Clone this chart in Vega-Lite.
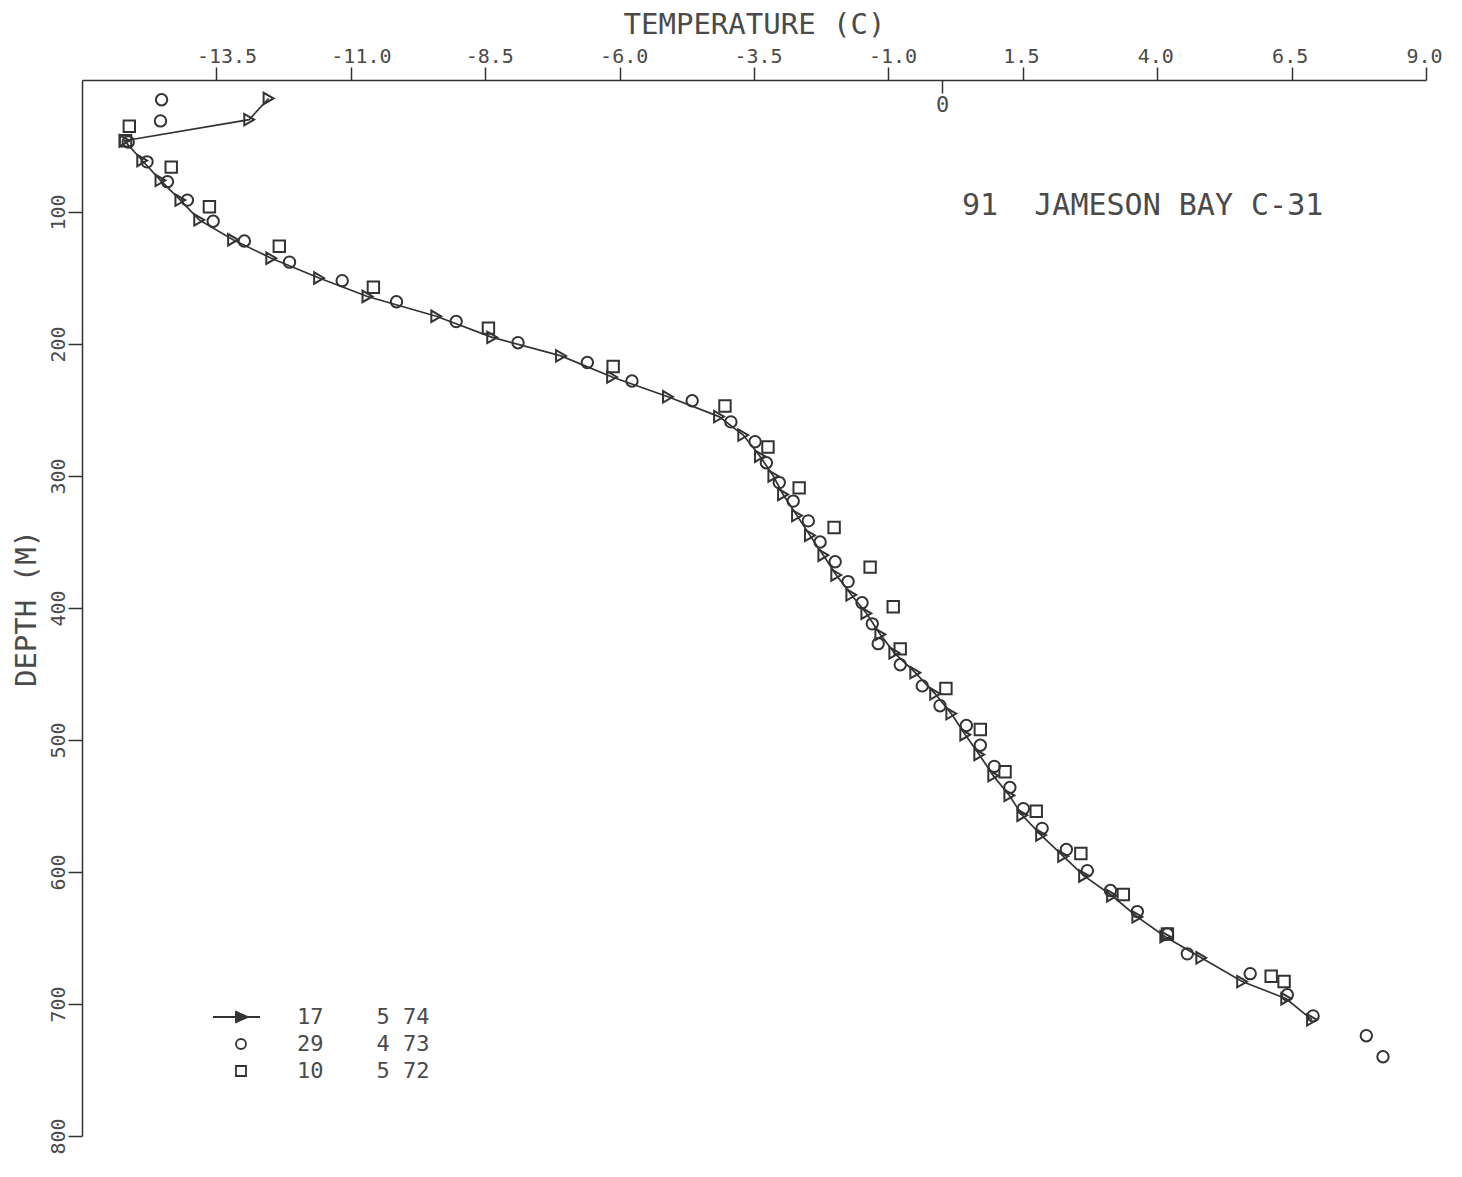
{
  "$schema": "https://vega.github.io/schema/vega-lite/v6.json",
  "width": 1344,
  "height": 1056,
  "autosize": {"type": "none"},
  "padding": {"left": 82, "top": 80, "right": 36, "bottom": 41},
  "background": "white",
  "config": {"view": {"stroke": null}, "axis": {"grid": false}, "font": "DejaVu Sans Mono"},
  "datasets": {
    "obs": [
      {"s":"A","temp":-12.53,"depth":14},{"s":"A","temp":-12.89,"depth":30},{"s":"A","temp":-15.21,"depth":46},{"s":"A","temp":-14.88,"depth":61},
      {"s":"A","temp":-14.54,"depth":76},{"s":"A","temp":-14.17,"depth":91},{"s":"A","temp":-13.82,"depth":106},{"s":"A","temp":-13.19,"depth":121},
      {"s":"A","temp":-12.48,"depth":135},{"s":"A","temp":-11.59,"depth":150},{"s":"A","temp":-10.69,"depth":164},{"s":"A","temp":-9.41,"depth":179},
      {"s":"A","temp":-8.37,"depth":195},{"s":"A","temp":-7.09,"depth":209},{"s":"A","temp":-6.14,"depth":225},{"s":"A","temp":-5.10,"depth":240},
      {"s":"A","temp":-4.15,"depth":255},{"s":"A","temp":-3.70,"depth":269},{"s":"A","temp":-3.39,"depth":285},{"s":"A","temp":-3.14,"depth":300},
      {"s":"A","temp":-2.96,"depth":314},{"s":"A","temp":-2.70,"depth":330},{"s":"A","temp":-2.46,"depth":345},{"s":"A","temp":-2.21,"depth":360},
      {"s":"A","temp":-1.97,"depth":375},{"s":"A","temp":-1.69,"depth":390},{"s":"A","temp":-1.41,"depth":404},{"s":"A","temp":-1.15,"depth":420},
      {"s":"A","temp":-0.89,"depth":434},{"s":"A","temp":-0.50,"depth":449},{"s":"A","temp":-0.13,"depth":465},{"s":"A","temp":0.17,"depth":480},
      {"s":"A","temp":0.43,"depth":496},{"s":"A","temp":0.69,"depth":511},{"s":"A","temp":0.95,"depth":527},{"s":"A","temp":1.25,"depth":542},
      {"s":"A","temp":1.49,"depth":557},{"s":"A","temp":1.84,"depth":572},{"s":"A","temp":2.25,"depth":588},{"s":"A","temp":2.64,"depth":603},
      {"s":"A","temp":3.16,"depth":618},{"s":"A","temp":3.63,"depth":634},{"s":"A","temp":4.15,"depth":649},{"s":"A","temp":4.82,"depth":665},
      {"s":"A","temp":5.58,"depth":683},{"s":"A","temp":6.40,"depth":696},{"s":"A","temp":6.88,"depth":712},
      {"s":"B","temp":-14.52,"depth":15},{"s":"B","temp":-14.54,"depth":31},{"s":"B","temp":-15.14,"depth":47},{"s":"B","temp":-14.79,"depth":62},
      {"s":"B","temp":-14.41,"depth":77},{"s":"B","temp":-14.04,"depth":91},{"s":"B","temp":-13.56,"depth":107},{"s":"B","temp":-12.98,"depth":122},
      {"s":"B","temp":-12.14,"depth":138},{"s":"B","temp":-11.16,"depth":152},{"s":"B","temp":-10.15,"depth":168},{"s":"B","temp":-9.04,"depth":183},
      {"s":"B","temp":-7.89,"depth":199},{"s":"B","temp":-6.60,"depth":214},{"s":"B","temp":-5.77,"depth":228},{"s":"B","temp":-4.65,"depth":243},
      {"s":"B","temp":-3.93,"depth":259},{"s":"B","temp":-3.48,"depth":274},{"s":"B","temp":-3.27,"depth":290},{"s":"B","temp":-3.03,"depth":305},
      {"s":"B","temp":-2.77,"depth":319},{"s":"B","temp":-2.49,"depth":334},{"s":"B","temp":-2.27,"depth":350},{"s":"B","temp":-1.99,"depth":365},
      {"s":"B","temp":-1.75,"depth":380},{"s":"B","temp":-1.49,"depth":396},{"s":"B","temp":-1.30,"depth":412},{"s":"B","temp":-1.19,"depth":427},
      {"s":"B","temp":-0.78,"depth":443},{"s":"B","temp":-0.37,"depth":459},{"s":"B","temp":-0.04,"depth":474},{"s":"B","temp":0.45,"depth":489},
      {"s":"B","temp":0.71,"depth":504},{"s":"B","temp":0.97,"depth":520},{"s":"B","temp":1.26,"depth":536},{"s":"B","temp":1.51,"depth":552},
      {"s":"B","temp":1.86,"depth":567},{"s":"B","temp":2.31,"depth":583},{"s":"B","temp":2.70,"depth":599},{"s":"B","temp":3.13,"depth":614},
      {"s":"B","temp":3.63,"depth":630},{"s":"B","temp":4.19,"depth":647},{"s":"B","temp":4.56,"depth":662},{"s":"B","temp":5.73,"depth":677},
      {"s":"B","temp":6.42,"depth":693},{"s":"B","temp":6.90,"depth":709},{"s":"B","temp":7.89,"depth":724},{"s":"B","temp":8.20,"depth":740},
      {"s":"C","temp":-15.12,"depth":35},{"s":"C","temp":-15.19,"depth":46},{"s":"C","temp":-14.34,"depth":66},{"s":"C","temp":-13.63,"depth":96},
      {"s":"C","temp":-12.33,"depth":126},{"s":"C","temp":-10.58,"depth":157},{"s":"C","temp":-8.44,"depth":188},{"s":"C","temp":-6.12,"depth":217},
      {"s":"C","temp":-4.04,"depth":247},{"s":"C","temp":-3.24,"depth":278},{"s":"C","temp":-2.66,"depth":309},{"s":"C","temp":-2.01,"depth":339},
      {"s":"C","temp":-1.34,"depth":369},{"s":"C","temp":-0.91,"depth":399},{"s":"C","temp":-0.78,"depth":431},{"s":"C","temp":0.07,"depth":461},
      {"s":"C","temp":0.71,"depth":492},{"s":"C","temp":1.17,"depth":524},{"s":"C","temp":1.75,"depth":554},{"s":"C","temp":2.58,"depth":586},
      {"s":"C","temp":3.37,"depth":617},{"s":"C","temp":4.19,"depth":647},{"s":"C","temp":6.12,"depth":679},{"s":"C","temp":6.36,"depth":683}
    ]
  },
  "data": {"name": "obs"},
  "encoding": {
    "y": {
      "field": "depth", "type": "quantitative",
      "scale": {"domain": [0, 800], "reverse": true, "nice": false, "zero": false},
      "axis": {
        "orient": "left", "values": [100, 200, 300, 400, 500, 600, 700, 800],
        "tickSize": 14, "tickWidth": 1.5, "tickColor": "#333", "domainColor": "#333", "domainWidth": 1.5,
        "labelFont": "DejaVu Sans Mono", "labelFontSize": 20, "labelColor": "#4a4a4a",
        "labelAngle": 270, "labelAlign": "center", "labelBaseline": "alphabetic", "labelPadding": 4,
        "labelOverlap": false, "labelFlush": false, "labelBound": false,
        "title": "DEPTH (M)", "titleFont": "DejaVu Sans Mono", "titleFontSize": 29, "titleFontWeight": "normal",
        "titleColor": "#4a4a4a", "titleAngle": 270, "titleAlign": "center", "titleBaseline": "alphabetic",
        "titleX": -47, "titleY": 528, "grid": false
      }
    }
  },
  "layer": [
    {
      "transform": [{"filter": "datum.s === 'A'"}],
      "mark": {"type": "line", "strokeWidth": 1.7},
      "encoding": {
        "x": {
          "field": "temp", "type": "quantitative",
          "scale": {"domain": [-16, 9], "nice": false, "zero": false},
          "axis": {
            "orient": "top", "values": [-13.5, -11, -8.5, -6, -3.5, -1, 1.5, 4, 6.5, 9],
            "labelExpr": "(datum.value < 0 ? '-' : '') + format(abs(datum.value), '.1f')",
            "tickSize": 13, "tickWidth": 1.5, "tickColor": "#333", "domainColor": "#333", "domainWidth": 1.5,
            "labelFont": "DejaVu Sans Mono", "labelFontSize": 20, "labelColor": "#4a4a4a",
            "labelAlign": "left", "labelBaseline": "alphabetic", "labelPadding": 5, "labelOffset": -20,
            "labelOverlap": false, "labelFlush": false, "labelBound": false,
            "title": "TEMPERATURE (C)", "titleFont": "DejaVu Sans Mono", "titleFontSize": 29, "titleFontWeight": "normal",
            "titleColor": "#4a4a4a", "titleAlign": "center", "titleBaseline": "alphabetic",
            "titleX": 672, "titleY": -47, "grid": false
          }
        },
        "color": {
          "field": "s", "type": "nominal",
          "scale": {"range": ["#333333"]},
          "legend": {
            "orient": "none", "legendX": 148, "legendY": 926, "title": null,
            "labelExpr": "'\u00a0'", "labelFontSize": 22, "labelOffset": 45, "padding": 0, "rowPadding": 5,
            "symbolType": "M-5.6,0H3.8M-1,-1L1.4,0L-1,1Z", "symbolSize": 100,
            "symbolStrokeWidth": 1.8, "symbolFillColor": "#333333", "symbolStrokeColor": "#333333"
          }
        },
        "order": {"field": "depth", "type": "quantitative"}
      }
    },
    {
      "mark": {"type": "point", "filled": false, "stroke": "#333", "strokeWidth": 2, "opacity": 1},
      "encoding": {
        "x": {
          "field": "temp", "type": "quantitative",
          "axis": {
            "orient": "bottom", "offset": -1056, "values": [0], "domain": false,
            "tickSize": 13, "tickWidth": 1.5, "tickColor": "#333",
            "labelExpr": "'0'", "labelFont": "DejaVu Sans Mono", "labelFontSize": 22, "labelColor": "#4a4a4a",
            "labelBaseline": "top", "labelPadding": 1, "labelFlush": false, "title": null, "grid": false
          }
        },
        "shape": {
          "field": "s", "type": "nominal",
          "scale": {"domain": ["A", "B", "C"], "range": ["triangle-right", "circle", "square"]},
          "legend": {
            "orient": "none", "legendX": 148, "legendY": 926, "title": null,
            "labelExpr": "datum.value === 'A' ? '17\u00a0\u00a0\u00a0\u00a05\u00a074' : datum.value === 'B' ? '29\u00a0\u00a0\u00a0\u00a04\u00a073' : '10\u00a0\u00a0\u00a0\u00a05\u00a072'",
            "labelFont": "DejaVu Sans Mono", "labelFontSize": 22, "labelColor": "#4a4a4a", "labelOffset": 45,
            "symbolSize": 100, "symbolStrokeColor": "#333", "symbolStrokeWidth": 1.8, "symbolFillColor": "transparent",
            "padding": 0, "rowPadding": 5
          }
        },
        "size": {"value": 130}
      }
    },
    {
      "data": {"values": [{"label": "91\u00a0\u00a0JAMESON BAY C-31", "temp": 0.37, "depth": 102}]},
      "mark": {"type": "text", "font": "DejaVu Sans Mono", "fontSize": 30, "fill": "#4a4a4a", "align": "left", "baseline": "alphabetic"},
      "encoding": {
        "x": {"field": "temp", "type": "quantitative", "axis": null},
        "text": {"field": "label", "type": "nominal"}
      }
    }
  ],
  "resolve": {"axis": {"x": "independent"}}
}
